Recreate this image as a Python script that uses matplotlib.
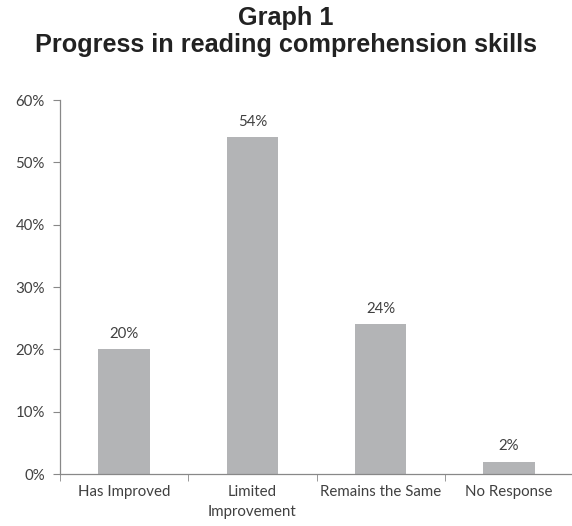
import matplotlib
matplotlib.use("Agg")
import matplotlib.pyplot as plt
import numpy as np

categories = ["Has Improved", "Limited\nImprovement", "Remains the Same", "No Response"]
values = [20, 54, 24, 2]
yticks = [0, 10, 20, 30, 40, 50, 60]

fig = plt.figure(figsize=(5.72, 5.26), dpi=100)
ax = fig.add_axes([60/572, 1-474/526, 513/572, 374/526])

x = np.arange(len(categories))
bar_color = "#b3b4b6"
ax.bar(x, values, width=0.4, color=bar_color, zorder=2)

tick_font = "Lato"
txt_color = "#404040"
for xi, v in zip(x, values):
    ax.annotate(f"{v}%", (xi, v), xytext=(0, 6), textcoords="offset points",
                ha="center", va="bottom", fontsize=10.8, color=txt_color, family=tick_font)

ax.set_xlim(-0.5, len(categories) - 0.5)
ax.set_ylim(0, 60)
ax.set_yticks(yticks)
ax.set_yticklabels([f"{t}%" for t in yticks], family=tick_font, fontsize=10.8, color=txt_color)
ax.set_xticks(x)
ax.set_xticklabels(categories, family=tick_font, fontsize=10.8, color=txt_color,
                   linespacing=1.55, va="top")
ax.tick_params(axis="x", which="major", length=0, pad=8)
ax.set_xticks(np.arange(len(categories) + 1) - 0.5, minor=True)
ax.tick_params(axis="x", which="minor", length=5, color="#888888", direction="out")
ax.tick_params(axis="y", length=5, color="#888888", direction="out", pad=6)

for s in ["top", "right"]:
    ax.spines[s].set_visible(False)
for s in ["left", "bottom"]:
    ax.spines[s].set_color("#888888")
    ax.spines[s].set_linewidth(0.9)

fig.text(0.5, 1-18/526, "Graph 1", ha="center", va="center", fontsize=18.2,
         fontweight="bold", family="Liberation Sans", color="#222222")
fig.text(0.5, 1-45/526, "Progress in reading comprehension skills", ha="center", va="center",
         fontsize=18.2, fontweight="bold", family="Liberation Sans", color="#222222")

fig.savefig("out.png", dpi=100)
